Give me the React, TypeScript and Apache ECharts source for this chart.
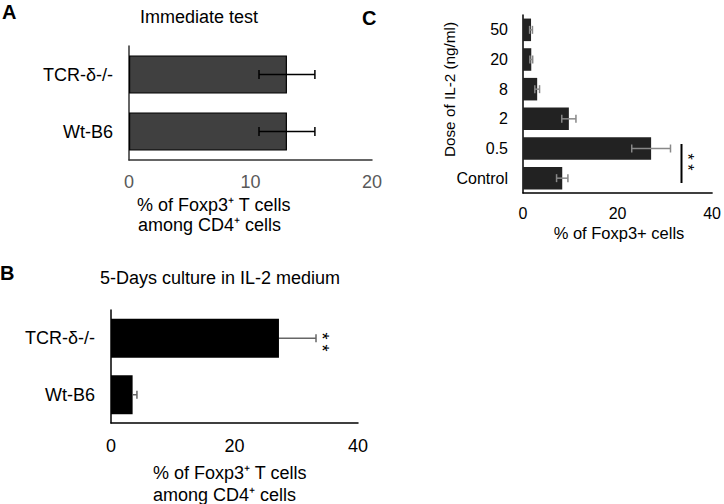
import React, { useEffect, useRef } from "react";
import * as echarts from "echarts";

// Panel A: Immediate test
const catsA = ["Wt-B6", "TCR-δ-/-"];
const valsA = [13.0, 13.0];
const errA = [2.3, 2.3];
const ticksA = { min: 0, max: 20, interval: 10 };

// Panel B: 5-Days culture in IL-2 medium
const catsB = ["Wt-B6", "TCR-δ-/-"];
const valsB = [3.5, 27.2];
const errB = [0.7, 6.0];
const ticksB = { min: 0, max: 40, interval: 20 };

// Panel C: dose of IL-2
const catsC = ["Control", "0.5", "2", "8", "20", "50"];
const valsC = [8.3, 27.1, 9.7, 3.0, 1.75, 1.7];
const errC = [1.2, 4.1, 1.5, 0.5, 0.3, 0.3];
const ticksC = { min: 0, max: 40, interval: 20 };

const FONT = "Liberation Sans, Arial, Helvetica, sans-serif";

function errSeries(idx: number, vals: number[], errs: number[], color: string, oneSided: boolean, cap: number) {
  return {
    type: "custom",
    xAxisIndex: idx,
    yAxisIndex: idx,
    encode: { x: [0, 2], y: 1 },
    data: vals.map((v, i) => [v, i, v + errs[i], v - errs[i]]),
    z: 5,
    renderItem: (params: any, api: any) => {
      const v = api.value(0);
      const c = api.value(1);
      const hi = api.value(2);
      const lo = api.value(3);
      const pHi = api.coord([hi, c]);
      const pLo = api.coord([oneSided ? v : lo, c]);
      const style = { stroke: color, lineWidth: 1.5 };
      const children: any[] = [
        { type: "line", shape: { x1: pLo[0], y1: pLo[1], x2: pHi[0], y2: pHi[1] }, style },
        { type: "line", shape: { x1: pHi[0], y1: pHi[1] - cap, x2: pHi[0], y2: pHi[1] + cap }, style },
      ];
      if (!oneSided) {
        children.push({ type: "line", shape: { x1: pLo[0], y1: pLo[1] - cap, x2: pLo[0], y2: pLo[1] + cap }, style });
      }
      return { type: "group", children };
    },
  };
}

function valueAxis(idx: number, t: any, labelColor: string, lineColor: string, size: number, margin: number) {
  return {
    type: "value",
    gridIndex: idx,
    min: t.min,
    max: t.max,
    interval: t.interval,
    axisLine: { show: true, lineStyle: { color: lineColor, width: 1.5 } },
    axisTick: { show: false },
    splitLine: { show: false },
    axisLabel: { color: labelColor, fontSize: size, fontFamily: FONT, margin },
  };
}

function catAxis(idx: number, cats: string[], size: number, lineColor: string, margin: number) {
  return {
    type: "category",
    gridIndex: idx,
    data: cats,
    axisLine: { show: true, lineStyle: { color: lineColor, width: 1.5 } },
    axisTick: { show: false },
    axisLabel: { color: "#000", fontSize: size, fontFamily: FONT, margin },
  };
}

export default function App() {
  const ref = useRef<HTMLDivElement>(null);
  useEffect(() => {
    if (!ref.current) return;
    const chart = echarts.init(ref.current, undefined, { renderer: "svg" });
    const txt = (x: number, y: number, text: string, size: number, opts: any = {}) => ({
      type: "text",
      x,
      y,
      style: {
        text,
        fontSize: size,
        fontFamily: FONT,
        fill: "#000",
        align: opts.align || "left",
        verticalAlign: opts.va || "middle",
        fontWeight: opts.bold ? "bold" : "normal",
      },
      rotation: opts.rot || 0,
    });
    chart.setOption({
      animation: false,
      backgroundColor: "#fff",
      grid: [
        { left: 129, right: 352, top: 46, bottom: 344 },
        { left: 111, right: 366, top: 310, bottom: 81 },
        { left: 523, right: 9, top: 15, bottom: 311 },
      ],
      xAxis: [
        valueAxis(0, ticksA, "#595959", "#333", 18, 13),
        valueAxis(1, ticksB, "#000", "#000", 18, 14),
        valueAxis(2, ticksC, "#000", "#000", 16, 12),
      ],
      yAxis: [
        catAxis(0, catsA, 18, "#333", 16),
        catAxis(1, catsB, 18, "#000", 16),
        catAxis(2, catsC, 16, "#000", 15),
      ],
      series: [
        {
          type: "bar",
          xAxisIndex: 0,
          yAxisIndex: 0,
          data: valsA,
          barWidth: "67%",
          itemStyle: { color: "#404040", borderColor: "#000", borderWidth: 1.2 },
        },
        errSeries(0, valsA, errA, "#000", false, 4.5),
        {
          type: "bar",
          xAxisIndex: 1,
          yAxisIndex: 1,
          data: valsB,
          barWidth: "69%",
          itemStyle: { color: "#000" },
        },
        errSeries(1, valsB, errB, "#666", true, 4),
        {
          type: "bar",
          xAxisIndex: 2,
          yAxisIndex: 2,
          data: valsC,
          barWidth: "76%",
          itemStyle: { color: "#222" },
        },
        errSeries(2, valsC, errC, "#888", false, 4),
      ],
      graphic: [
        txt(2, 12, "A", 20, { bold: true }),
        txt(199, 17, "Immediate test", 18, { align: "center" }),
        txt(137, 205, "% of Foxp3⁺ T cells", 18),
        txt(138, 225, "among CD4⁺ cells", 18),
        txt(0, 273, "B", 20, { bold: true }),
        txt(220, 278, "5-Days culture in IL-2 medium", 18, { align: "center" }),
        txt(153, 473, "% of Foxp3⁺ T cells", 18),
        txt(153, 495, "among CD4⁺ cells", 18),
        txt(322, 342, "* *", 18, { align: "center", rot: -Math.PI / 2 }),
        txt(362, 18, "C", 20, { bold: true }),
        txt(619, 233, "% of Foxp3+ cells", 16.5, { align: "center" }),
        txt(449, 89.5, "Dose of IL-2 (ng/ml)", 15.3, { align: "center", rot: Math.PI / 2 }),
        {
          type: "line",
          shape: { x1: 681.5, y1: 144, x2: 681.5, y2: 183 },
          style: { stroke: "#000", lineWidth: 2 },
        },
        txt(687.5, 162, "* *", 16, { align: "center", rot: -Math.PI / 2 }),
      ],
    });
    return () => chart.dispose();
  }, []);
  return <div ref={ref} style={{ position: "fixed", left: 0, top: 0, width: 724, height: 504 }} />;
}
